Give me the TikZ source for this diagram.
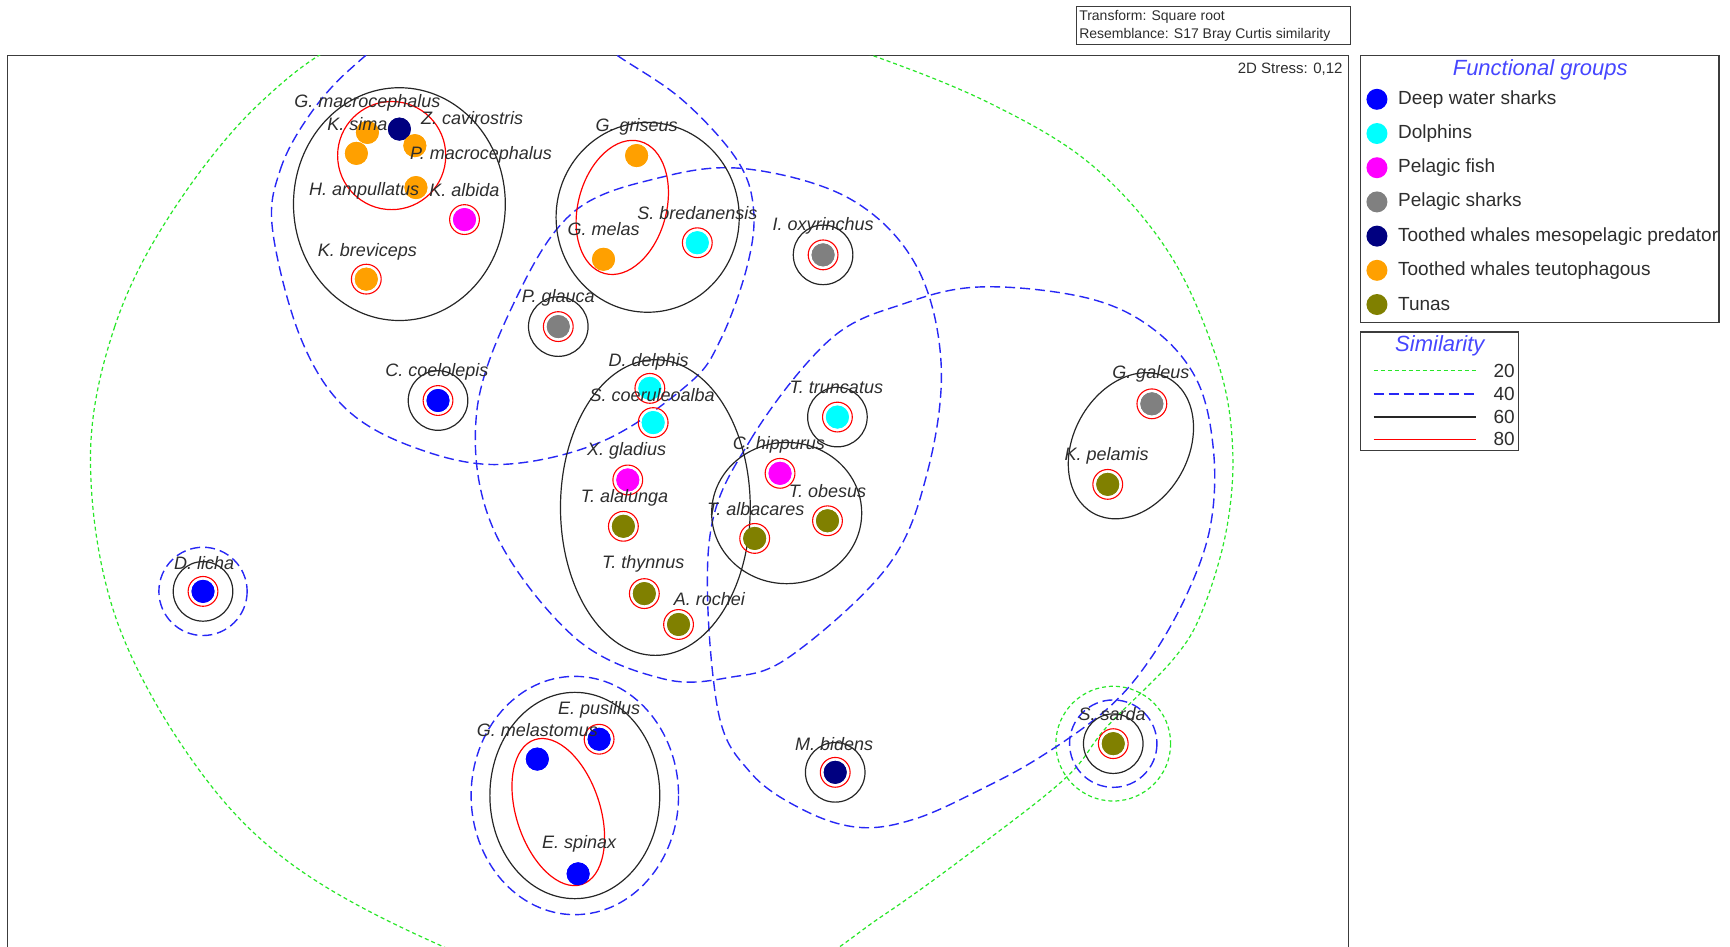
\documentclass[tikz,border=0pt]{standalone}
\usepackage{fontspec}
\setmainfont{Liberation Sans}
\definecolor{labc}{RGB}{45,45,45}
\definecolor{dblue}{RGB}{40,40,245}
\definecolor{dgreen}{RGB}{40,230,40}
\definecolor{ttl}{RGB}{70,70,255}
\definecolor{cnavy}{RGB}{0,0,128}
\definecolor{corange}{RGB}{255,160,0}
\definecolor{colive}{RGB}{128,128,0}
\definecolor{cgray}{RGB}{128,128,128}
\definecolor{ccyan}{RGB}{0,255,255}
\definecolor{cmag}{RGB}{255,0,255}
\definecolor{cblue}{RGB}{0,0,255}
\definecolor{frm}{RGB}{60,60,60}
\begin{document}
\begin{tikzpicture}[x=1.1033pt,y=-1.1033pt,
  lab/.style={font=\fontsize{18}{20}\selectfont\itshape, text=labc, inner sep=0pt},
  spot/.style={circle, fill=#1, draw=none, minimum size=23pt, inner sep=0pt},
  lspot/.style={circle, fill=#1, draw=none, minimum size=21pt, inner sep=0pt},
  redring/.style={draw=red, line width=1.1pt},
  c60/.style={draw=black!85, line width=1.2pt},
  c40/.style={draw=dblue, line width=1.4pt, dash pattern=on 10pt off 5pt},
  c20/.style={draw=dgreen, line width=1.2pt, dash pattern=on 4pt off 3pt},
  c80/.style={draw=red, line width=1.2pt},
  boxf/.style={draw=frm, line width=1.3pt},
  legt/.style={font=\fontsize{19}{21}\selectfont, text=labc, anchor=west, inner sep=0pt},
  ttlf/.style={font=\fontsize{22}{24}\selectfont\itshape, text=ttl, inner sep=0pt},
]
\path[use as bounding box] (0,0) rectangle (1568,858);
\clip (0,0) rectangle (1568,858);

% ---------- header ----------
\draw[boxf, line width=1pt] (976,6) rectangle (1224,40);
\node[anchor=west, inner sep=0pt, font=\fontsize{14}{15}\selectfont, text=labc] (tr) at (978,15) {Transform: Square root};
\node[anchor=west, inner sep=0pt, font=\fontsize{14}{15}\selectfont, text=labc] (rs) at (978,32) {Resemblance: S17 Bray Curtis similarity};

% ---------- frame ----------
\draw[boxf] (7,50) rectangle (1222,880);
\node[anchor=east, inner sep=0pt, font=\fontsize{15}{16}\selectfont, text=labc] (stress) at (1217,63) {2D Stress: 0,12};

% ---------- points ----------
\node[spot=corange] (gmac) at (323,139) {};
\node[spot=corange] (ksima) at (333,120) {};
\node[spot=cnavy] (zcav) at (362,117) {};
\node[spot=corange] (pmac) at (376,132) {};
\node[spot=corange] (hamp) at (377,170) {};
\node[spot=cmag] (kalb) at (421,199) {};
\node[spot=corange] (kbrev) at (332,253) {};
\node[spot=corange] (ggris) at (577,141) {};
\node[spot=corange] (gmel) at (547,235) {};
\node[spot=ccyan] (sbred) at (632,220) {};
\node[spot=cgray] (ioxy) at (746,231) {};
\node[spot=cgray] (pgla) at (506,296) {};
\node[spot=cblue] (ccoel) at (397,363) {};
\node[spot=ccyan] (ddel) at (589,352) {};
\node[spot=ccyan] (scoe) at (592,383) {};
\node[spot=cmag] (xgla) at (569,435) {};
\node[spot=colive] (talal) at (565,477) {};
\node[spot=colive] (tthy) at (584,538) {};
\node[spot=colive] (aroc) at (615,566) {};
\node[spot=ccyan] (ttru) at (759,378) {};
\node[spot=cmag] (chip) at (707,429) {};
\node[spot=colive] (tobe) at (750,472) {};
\node[spot=colive] (talb) at (684,488) {};
\node[spot=cgray] (ggal) at (1044,366) {};
\node[spot=colive] (kpel) at (1004,439) {};
\node[spot=cblue] (dlic) at (184,536) {};
\node[spot=cnavy] (mbid) at (757,700) {};
\node[spot=colive] (ssar) at (1009,674) {};
\node[spot=cblue] (epus) at (543,670) {};
\node[spot=cblue] (gmela) at (487,688) {};
\node[spot=cblue] (espi) at (524,792) {};

% ---------- contours (clipped to frame) ----------
\begin{scope}
\clip (7,50) rectangle (1222,880);
% 20 %
\draw[c20] plot[smooth cycle, tension=0.6] coordinates {
 (82,416) (104,296) (156,192) (236,93) (330,30) (480,0) (650,5) (790,50)
 (900,95) (990,150) (1060,230) (1103,326) (1117,402) (1112,478) (1090,553)
 (1063,598) (1003,659) (967,704) (890,765) (800,830) (710,885) (560,915)
 (395,855) (260,780) (172,686) (104,557)};
\draw[c20] (ssar.center) circle[radius=52];
% 40 %
\draw[c40] plot[smooth cycle, tension=0.6] coordinates {
 (247,208) (254,154) (280,105) (317,63) (370,25) (450,5) (515,22) (562,52)
 (619,91) (668,145) (683,190) (677,242) (653,308) (624,348) (546,400)
 (453,421) (374,405) (312,369) (272,305)};
\draw[c40] plot[smooth cycle, tension=0.6] coordinates {
 (432,374) (468,270) (520,192) (598,161) (676,153) (770,180) (830,240)
 (853,330) (840,430) (804,514) (716,595) (661,614) (600,615) (520,577) (447,479)};
\draw[c40] plot[smooth cycle, tension=0.6] coordinates {
 (643,489) (680,399) (752,308) (820,275) (890,260) (985,270) (1045,298)
 (1085,345) (1100,410) (1097,477) (1076,538) (1042,598) (1003,643) (943,686)
 (888,716) (830,742) (780,750) (730,735) (680,700) (650,640)};
\draw[c40] (dlic.center) circle[radius=40];
\draw[c40] (ssar.center) circle[radius=39.6];
\draw[c40] (521,721) ellipse[x radius=94, y radius=108];
% 60 %
\draw[c60] (362,185) ellipse[x radius=96, y radius=105.5];
\draw[c60] (587,197) ellipse[x radius=83, y radius=86];
\draw[c60] (594,460) ellipse[x radius=86, y radius=134];
\draw[c60] (713,465) ellipse[x radius=68, y radius=64];
\draw[c60] (521,721) ellipse[x radius=77, y radius=93.5];
\draw[c60, rotate around={61:(1025,404)}] (1025,404) ellipse[x radius=70, y radius=52];
\foreach \n in {ioxy,pgla,ccoel,ttru,dlic,mbid,ssar}
  \draw[c60] (\n.center) circle[radius=27];
% 80 %
\draw[c80] (355,141) circle[radius=49];
\draw[c80, rotate around={75:(564,188)}] (564,188) ellipse[x radius=62, y radius=40];
\draw[c80, rotate around={108:(506,736)}] (506,736) ellipse[x radius=69, y radius=38];
\foreach \n in {kalb,kbrev,sbred,ioxy,pgla,ccoel,ddel,scoe,xgla,talal,tthy,aroc,ttru,chip,tobe,talb,ggal,kpel,dlic,mbid,ssar,epus}
  \draw[redring] (\n.center) circle[radius=13.5];
\end{scope}

% redraw dots on top
\foreach \n/\c in {gmac/corange,ksima/corange,zcav/cnavy,pmac/corange,hamp/corange,kalb/cmag,kbrev/corange,ggris/corange,gmel/corange,sbred/ccyan,ioxy/cgray,pgla/cgray,ccoel/cblue,ddel/ccyan,scoe/ccyan,xgla/cmag,talal/colive,tthy/colive,aroc/colive,ttru/ccyan,chip/cmag,tobe/colive,talb/colive,ggal/cgray,kpel/colive,dlic/cblue,mbid/cnavy,ssar/colive,epus/cblue,gmela/cblue,espi/cblue}
  \fill[\c] (\n.center) circle[radius=10.4];

% ---------- labels ----------
\node[lab] (gmac-l) at (333,93) {G. macrocephalus};
\node[lab] (ksima-l) at (324,112) {K. sima};
\node[lab] (zcav-l) at (428,107) {Z. cavirostris};
\node[lab] (pmac-l) at (436,140) {P. macrocephalus};
\node[lab] (hamp-l) at (330,173) {H. ampullatus};
\node[lab] (kalb-l) at (421,172) {K. albida};
\node[lab] (kbrev-l) at (333,228) {K. breviceps};
\node[lab] (ggris-l) at (577,115) {G. griseus};
\node[lab] (gmel-l) at (547,208) {G. melas};
\node[lab] (sbred-l) at (632,193) {S. bredanensis};
\node[lab] (ioxy-l) at (746,205) {I. oxyrinchus};
\node[lab] (pgla-l) at (506,270) {P. glauca};
\node[lab] (ccoel-l) at (396,337) {C. coelolepis};
\node[lab] (ddel-l) at (588,328) {D. delphis};
\node[lab] (scoe-l) at (591,358) {S. coeruleoalba};
\node[lab] (xgla-l) at (568,409) {X. gladius};
\node[lab] (talal-l) at (566,451) {T. alalunga};
\node[lab] (tthy-l) at (583,511) {T. thynnus};
\node[lab] (aroc-l) at (643,543) {A. rochei};
\node[lab] (ttru-l) at (758,351) {T. truncatus};
\node[lab] (chip-l) at (706,403) {C. hippurus};
\node[lab] (tobe-l) at (750,445) {T. obesus};
\node[lab] (talb-l) at (685,461) {T. albacares};
\node[lab] (ggal-l) at (1043,339) {G. galeus};
\node[lab] (kpel-l) at (1003,413) {K. pelamis};
\node[lab] (dlic-l) at (185,510) {D. licha};
\node[lab] (mbid-l) at (756,674) {M. bidens};
\node[lab] (ssar-l) at (1008,647) {S. sarda};
\node[lab] (epus-l) at (543,643) {E. pusillus};
\node[lab] (gmela-l) at (487,662) {G. melastomus};
\node[lab] (espi-l) at (525,765) {E. spinax};

% ---------- legend: functional groups ----------
\draw[boxf] (1233,50) rectangle (1558,292);
\node[ttlf] (fgt) at (1396,63) {Functional groups};
\begin{scope}
\clip (1233,50) rectangle (1557,292);
\node[lspot=cblue] (lg1) at (1248,90) {};
\node[legt] (lt1) at (1267,90) {Deep water sharks};
\node[lspot=ccyan] (lg2) at (1248,121) {};
\node[legt] (lt2) at (1267,121) {Dolphins};
\node[lspot=cmag] (lg3) at (1248,152) {};
\node[legt] (lt3) at (1267,152) {Pelagic fish};
\node[lspot=cgray] (lg4) at (1248,183) {};
\node[legt] (lt4) at (1267,183) {Pelagic sharks};
\node[lspot=cnavy] (lg5) at (1248,214) {};
\node[legt] (lt5) at (1267,214) {Toothed whales mesopelagic predator};
\node[lspot=corange] (lg6) at (1248,245) {};
\node[legt] (lt6) at (1267,245) {Toothed whales teutophagous};
\node[lspot=colive] (lg7) at (1248,276) {};
\node[legt] (lt7) at (1267,276) {Tunas};
\end{scope}

% ---------- legend: similarity ----------
\draw[boxf] (1233,301) rectangle (1376,408);
\node[ttlf] (simt) at (1305,313) {Similarity};
\coordinate (s20a) at (1245,336); \coordinate (s20b) at (1338,336);
\coordinate (s40a) at (1245,357); \coordinate (s40b) at (1338,357);
\coordinate (s60a) at (1245,378); \coordinate (s60b) at (1338,378);
\coordinate (s80a) at (1245,398); \coordinate (s80b) at (1338,398);
\draw[c20] (s20a) -- (s20b);
\draw[c40] (s40a) -- (s40b);
\draw[c60] (s60a) -- (s60b);
\draw[c80] (s80a) -- (s80b);
\node[legt, anchor=east] (n20) at (1373,336) {20};
\node[legt, anchor=east] (n40) at (1373,357) {40};
\node[legt, anchor=east] (n60) at (1373,378) {60};
\node[legt, anchor=east] (n80) at (1373,398) {80};
\end{tikzpicture}
\end{document}
